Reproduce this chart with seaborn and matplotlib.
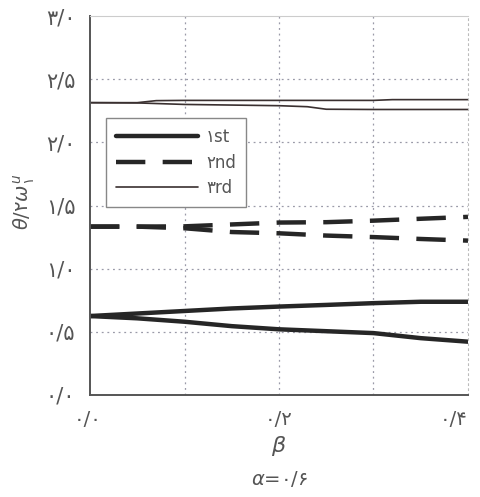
import numpy as np
import pandas as pd
import matplotlib
matplotlib.use("Agg")
import matplotlib.pyplot as plt
import seaborn as sns
from matplotlib.lines import Line2D

# beta values at which the frequency parameters were sampled
beta = [0.0, 0.05, 0.1, 0.15, 0.2, 0.25, 0.3, 0.35, 0.4]

# first mode: two branches splitting from a common value
mode1_upper = [0.625, 0.645, 0.665, 0.685, 0.700, 0.713, 0.727, 0.738, 0.738]
mode1_lower = [0.625, 0.607, 0.580, 0.545, 0.520, 0.505, 0.490, 0.450, 0.422]

# second mode
mode2_upper = [1.333, 1.333, 1.335, 1.350, 1.365, 1.368, 1.380, 1.395, 1.410]
mode2_lower = [1.333, 1.333, 1.320, 1.290, 1.280, 1.262, 1.250, 1.235, 1.222]

# third mode
mode3_beta_upper = [0.0, 0.05, 0.07, 0.1, 0.2, 0.3, 0.32, 0.4]
mode3_upper = [2.314, 2.314, 2.330, 2.332, 2.332, 2.332, 2.338, 2.338]
mode3_beta_lower = [0.0, 0.05, 0.1, 0.2, 0.23, 0.25, 0.3, 0.4]
mode3_lower = [2.314, 2.312, 2.300, 2.290, 2.282, 2.262, 2.260, 2.260]

yticks = [0.0, 0.5, 1.0, 1.5, 2.0, 2.5, 3.0]
ytick_labels = ["۰/۰", "۰/۵", "۱/۰", "۱/۵", "۲/۰", "۲/۵", "۳/۰"]
xticks = [0.0, 0.1, 0.2, 0.3, 0.4]
xtick_labels = ["۰/۰", "", "۰/۲", "", "۰/۴"]
legend_labels = ["۱st", "۲nd", "۳rd"]

sns.set_theme(style="white")
plt.rcParams["font.family"] = ["DejaVu Sans"]
plt.rcParams["mathtext.fontset"] = "dejavusans"

text_color = "#555555"
line_color = "#262626"

fig = plt.figure(figsize=(4.81, 4.97), dpi=100)
ax = fig.add_axes([90 / 481, 1 - 395 / 497, 378 / 481, 379 / 497])

dash = (0, (6.6, 3.9))
lw_thick = 3.2
lw_thin = 1.2

sns.lineplot(x=beta, y=mode1_upper, ax=ax, color=line_color, lw=lw_thick)
sns.lineplot(x=beta, y=mode1_lower, ax=ax, color=line_color, lw=lw_thick)
sns.lineplot(x=beta, y=mode2_upper, ax=ax, color=line_color, lw=lw_thick, linestyle=dash)
sns.lineplot(x=beta, y=mode2_lower, ax=ax, color=line_color, lw=lw_thick, linestyle=dash)
sns.lineplot(x=mode3_beta_upper, y=mode3_upper, ax=ax, color="#3a3030", lw=lw_thin)
sns.lineplot(x=mode3_beta_lower, y=mode3_lower, ax=ax, color="#3a3030", lw=lw_thin)

ax.set_xlim(0, 0.4)
ax.set_ylim(0, 3.0)
ax.set_xticks(xticks)
ax.set_xticklabels(xtick_labels)
ax.set_yticks(yticks)
ax.set_yticklabels(ytick_labels)
ax.tick_params(axis="both", direction="inout", length=9, width=1.0,
               colors=text_color, labelsize=15)
ax.tick_params(axis="x", pad=6)
ax.tick_params(axis="y", pad=6)
xlabels = ax.get_xticklabels()
xlabels[0].set_horizontalalignment("right")
xlabels[0].set_x(0.0)
xlabels[-1].set_horizontalalignment("right")
for lab in xlabels:
    lab.set_fontsize(14)
# nudge the first label slightly left of its tick, the last one flush right
from matplotlib.transforms import ScaledTranslation
xlabels[0].set_transform(xlabels[0].get_transform() + ScaledTranslation(12 / 100, 0, fig.dpi_scale_trans))

# dotted reference grid
for yv in [0.5, 1.0, 1.5, 2.0, 2.5]:
    ax.axhline(yv, color="#9a9aa8", lw=0.9, linestyle=(0, (1.5, 3)), zorder=0)
for xv in [0.1, 0.2, 0.3]:
    ax.axvline(xv, color="#9a9aa8", lw=0.9, linestyle=(0, (1.5, 3)), zorder=0)

for side in ["left", "bottom"]:
    ax.spines[side].set_color("#555555")
    ax.spines[side].set_linewidth(1.4)
ax.spines["top"].set_color("#cccccc")
ax.spines["top"].set_linewidth(0.8)
ax.spines["right"].set_color("#bbbbbb")
ax.spines["right"].set_linewidth(0.8)
ax.spines["right"].set_linestyle((0, (1.5, 3)))

ax.set_xlabel(r"$\beta$", fontsize=16, color=text_color)
ax.xaxis.set_label_coords(0.5, (395 - 434) / 379)
ax.set_ylabel(r"$\theta/\mathrm{۲}\omega_{\mathrm{۱}}^{u}$", fontsize=14, color=text_color)
ax.yaxis.set_label_coords((37 - 90) / 378, (395 - 202) / 379)
ax.text(0.5, (395 - 479) / 379, r"$\alpha$=۰/۶", transform=ax.transAxes,
        ha="center", va="center", fontsize=14, color=text_color)

handles = [
    Line2D([], [], color=line_color, lw=lw_thick),
    Line2D([], [], color=line_color, lw=lw_thick, linestyle=dash),
    Line2D([], [], color="#3a3030", lw=lw_thin),
]
leg = ax.legend(handles, legend_labels, loc="upper left",
                bbox_to_anchor=(106 / 481, 1 - 118 / 497),
                bbox_transform=fig.transFigure, borderaxespad=0,
                fancybox=False, framealpha=1, edgecolor="#888888",
                fontsize=12, handlelength=4.9, handletextpad=0.5,
                labelspacing=0.45, borderpad=0.6, labelcolor=text_color)
leg.get_frame().set_linewidth(1.0)

fig.savefig("out.png", dpi=100)
